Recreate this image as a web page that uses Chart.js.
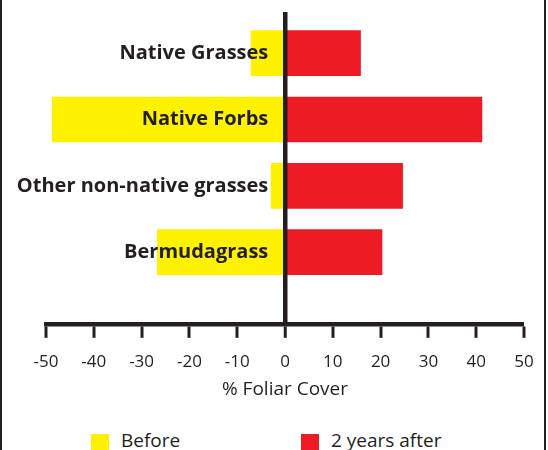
<!DOCTYPE html>
<html>
<head>
<meta charset="utf-8">
<script src="https://cdn.jsdelivr.net/npm/chart.js@4.4.0/dist/chart.umd.min.js"></script>
<style>
  html, body { margin: 0; padding: 0; background: #fff; overflow: hidden; }
  #wrap { position: relative; width: 548px; height: 450px; overflow: hidden; }
  #frame { position: absolute; left: 0; top: -6px; width: 542px; height: 480px; border: 2px solid #231f20; }
  #chartBox { position: absolute; left: 0; top: 0; width: 548px; height: 410px; }
  .key { position: absolute; top: 434px; width: 18px; height: 20px; }
  .keyText { position: absolute; top: 427px; font: 19px 'Open Sans'; color: #231f20; line-height: 26px; }
</style>
</head>
<body>
<div id="wrap">
  <div id="frame"></div>
  <div id="chartBox"><canvas id="myChart"></canvas></div>
  <div class="key" style="left:91px;background:#fff200"></div>
  <div class="keyText" style="left:121px">Before</div>
  <div class="key" style="left:301px;background:#ed1c24"></div>
  <div class="keyText" style="left:331px">2 years after</div>
</div>
<script>
const categories = ['Native Grasses', 'Native Forbs', 'Other non-native grasses', 'Bermudagrass'];
const beforeCover = [-7.1, -48.7, -2.9, -26.7];
const afterCover = [15.8, 41.2, 24.6, 20.3];
const seriesNames = ['Before', '2 years after'];
const xMin = -50;
const xMax = 50;

const TEXT = '#231f20';
const ctx = document.getElementById('myChart').getContext('2d');

function toPoints(values) {
  return values.map((v, i) => ({ x: v, y: i }));
}

const myChart = new Chart(ctx, {
  type: 'bar',
  data: {
    datasets: [
      {
        label: seriesNames[0],
        data: toPoints(beforeCover),
        backgroundColor: '#fff200',
        borderWidth: 0,
      },
      {
        label: seriesNames[1],
        data: toPoints(afterCover),
        backgroundColor: '#ed1c24',
        borderWidth: 0,
      },
    ],
  },
  options: {
    indexAxis: 'y',
    responsive: true,
    maintainAspectRatio: false,
    animation: false,
    layout: { padding: { left: 46, right: 24, top: 11, bottom: 5 } },
    datasets: { bar: { barThickness: 45, grouped: false } },
    plugins: {
      legend: { display: false },
      tooltip: { enabled: false },
    },
    scales: {
      x: {
        type: 'linear',
        min: xMin,
        max: xMax,
        ticks: { stepSize: 10, color: TEXT, padding: 14, z: 1, font: { family: 'Open Sans', size: 17 } },
        grid: {
          // only the zero line is drawn across the plot
          color: (c) => (c.tick && c.tick.value === 0 ? TEXT : 'rgba(0,0,0,0)'),
          lineWidth: (c) => (c.tick && c.tick.value === 0 ? 4.5 : 0),
          tickLength: 14,
          tickColor: TEXT,
          tickWidth: 3,
          z: 1,
        },
        border: { color: TEXT, width: 4.5, z: 1 },
        title: {
          display: true,
          text: '% Foliar Cover',
          color: TEXT,
          font: { family: 'Open Sans', size: 19 },
          padding: { top: -8, bottom: 4 },
        },
      },
      y: {
        type: 'linear',
        reverse: true,
        offset: false,
        min: -0.62,
        max: 4.08,
        position: { x: -3.5 },
        afterBuildTicks: (axis) => {
          axis.ticks = categories.map((c, i) => ({ value: i }));
        },
        ticks: {
          color: TEXT,
          padding: 0,
          z: 1,
          font: { family: 'Open Sans', size: 20, weight: 'bold' },
          callback: (value) => categories[value],
        },
        grid: { display: false },
        border: { display: false },
      },
    },
  },
});
</script>
</body>
</html>
